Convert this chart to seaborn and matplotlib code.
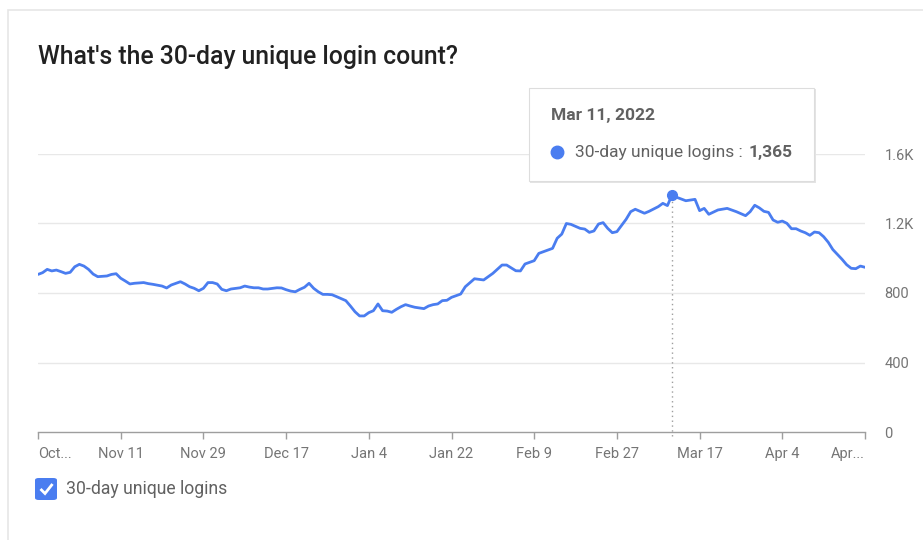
import numpy as np
import pandas as pd
import matplotlib
matplotlib.use("Agg")
import matplotlib.pyplot as plt
from matplotlib.patches import FancyBboxPatch, Rectangle
from matplotlib.lines import Line2D
import seaborn as sns

# ---- data ----
start_date = "2021-10-24"
day_offsets = [0, 1, 2, 3, 4, 5, 6, 7, 8, 9, 10, 11, 12, 13, 15, 16, 17, 18, 19, 20,
               21, 23, 24, 25, 27, 28, 29, 31, 32, 33, 34, 35, 36, 37, 38, 39, 40, 41, 42, 44,
               45, 46, 47, 48, 49, 50, 52, 53, 54, 55, 56, 57, 58, 59, 60, 61, 62, 63, 64, 65,
               67, 68, 69, 70, 71, 72, 73, 74, 75, 76, 77, 78, 79, 80, 81, 82, 84, 85, 86, 87,
               88, 89, 90, 92, 93, 95, 97, 99, 101, 102, 104, 105, 106, 108, 109, 111, 112, 113, 114, 115,
               116, 118, 119, 120, 121, 122, 123, 124, 125, 126, 128, 129, 130, 132, 133, 135, 136, 137, 138, 139,
               141, 143, 144, 145, 146, 148, 150, 152, 154, 155, 156, 157, 158, 159, 160, 161, 162, 163, 164, 165,
               166, 167, 168, 169, 170, 171, 172, 173, 175, 176, 177, 178, 179, 180]
logins = [907, 917, 936, 927, 932, 923, 913, 919, 951, 965, 955, 936, 909, 894, 898, 907, 911, 885, 869, 852,
          856, 860, 854, 850, 840, 829, 846, 865, 852, 836, 827, 813, 827, 860, 860, 852, 821, 813, 823, 830,
          840, 834, 830, 830, 823, 823, 830, 829, 819, 811, 807, 821, 833, 856, 827, 807, 792, 792, 790, 779,
          756, 725, 692, 668, 668, 687, 698, 737, 698, 696, 689, 706, 721, 733, 725, 718, 710, 725, 733, 737,
          756, 758, 775, 794, 836, 882, 875, 913, 961, 961, 928, 927, 967, 986, 1028, 1047, 1057, 1115, 1139, 1200,
          1195, 1172, 1168, 1149, 1157, 1197, 1205, 1172, 1147, 1153, 1224, 1268, 1282, 1259, 1270, 1297, 1316, 1303, 1365, 1351,
          1331, 1339, 1274, 1287, 1253, 1278, 1287, 1268, 1245, 1268, 1305, 1290, 1270, 1264, 1220, 1207, 1214, 1201, 1170, 1170,
          1157, 1147, 1132, 1151, 1147, 1124, 1092, 1050, 994, 963, 942, 940, 955, 948]
tick_dates = ["2021-10-24", "2021-11-11", "2021-11-29", "2021-12-17", "2022-01-04", "2022-01-22",
              "2022-02-09", "2022-02-27", "2022-03-17", "2022-04-04", "2022-04-22"]
tick_labels = ["Oct...", "Nov 11", "Nov 29", "Dec 17", "Jan 4", "Jan 22",
               "Feb 9", "Feb 27", "Mar 17", "Apr 4", "Apr..."]
y_ticks = [0, 400, 800, 1200, 1600]
y_labels = ["0", "400", "800", "1.2K", "1.6K"]
highlight_date = "2022-03-11"
highlight_value = 1365
series_name = "30-day unique logins"
title = "What's the 30-day unique login count?"

dates = pd.Timestamp(start_date) + pd.to_timedelta(day_offsets, unit="D")
df = pd.DataFrame({"date": dates, "value": logins})

BLUE = "#4a7df0"
GRAY_TXT = "#757575"

sns.set_theme(style="white")
plt.rcParams["font.family"] = ["Roboto", "DejaVu Sans"]

W, H = 923, 540
fig = plt.figure(figsize=(W / 100, H / 100), dpi=100)
fig.patch.set_facecolor("white")

def fx(px):
    return px / W

def fy(py):
    return 1 - py / H

# card outline
card = Rectangle((fx(8), fy(545)), fx(930) - fx(8), fy(10) - fy(545),
                 transform=fig.transFigure, facecolor="white", edgecolor="#e6e6e6",
                 linewidth=1.2, zorder=-5)
fig.patches.append(card)

ax = fig.add_axes([fx(38), fy(432), fx(865) - fx(38), fy(154) - fy(432)])
ax.set_facecolor("none")
ax.set_zorder(1)

sns.lineplot(data=df, x="date", y="value", ax=ax, color=BLUE, linewidth=2.0,
             legend=False, zorder=3)

x0 = pd.Timestamp(tick_dates[0])
x1 = pd.Timestamp(tick_dates[-1])
ax.set_xlim(x0, x1)
ax.set_ylim(0, 1600)

# gridlines
for v in y_ticks[1:]:
    ax.axhline(v, color="#e8e8e8", linewidth=1.0, zorder=1)

for s in ["top", "left", "right"]:
    ax.spines[s].set_visible(False)
ax.spines["bottom"].set_color("#9e9e9e")
ax.spines["bottom"].set_linewidth(1.0)

ax.set_xticks(pd.to_datetime(tick_dates))
ax.set_xticklabels(tick_labels)
ax.tick_params(axis="x", bottom=True, length=5, width=1, color="#9e9e9e",
               labelsize=10.5, labelcolor=GRAY_TXT, pad=6)
lbls = ax.get_xticklabels()
lbls[0].set_ha("left")
lbls[-1].set_ha("right")

ax.yaxis.tick_right()
ax.set_yticks(y_ticks)
ax.set_yticklabels(y_labels)
ax.tick_params(axis="y", right=False, left=False, labelsize=10.5,
               labelcolor=GRAY_TXT, pad=8)
ax.set_xlabel("")
ax.set_ylabel("")

# highlight
hd = pd.Timestamp(highlight_date)
ax.vlines(hd, -25, highlight_value, colors="#9e9e9e", linestyles=(0, (1, 2.5)),
          linewidth=1.0, zorder=2, clip_on=False)
ax.plot([hd], [highlight_value], marker="o", markersize=7, color=BLUE, zorder=4,
        clip_on=False)

# title
fig.text(fx(38), fy(57), title, fontsize=17.8, color="#212121", fontweight="medium",
         ha="left", va="center")

# tooltip (above axes)
shadow = Rectangle((fx(530), fy(183)), fx(816) - fx(530), fy(89) - fy(183),
                   transform=fig.transFigure, facecolor="#e4e4e4", edgecolor="none",
                   zorder=5)
fig.patches.append(shadow)
tip = Rectangle((fx(529), fy(181)), fx(814) - fx(529), fy(88) - fy(181),
                transform=fig.transFigure, facecolor="white", edgecolor="#dddddd",
                linewidth=0.8, zorder=6)
fig.patches.append(tip)
fig.text(fx(551), fy(115), "Mar 11, 2022", fontsize=12.5, fontweight="bold",
         color="#616161", ha="left", va="center", zorder=7)
fig.add_artist(Line2D([fx(557)], [fy(152)], marker="o", markersize=9, color=BLUE,
                      transform=fig.transFigure, zorder=7))
t1 = fig.text(fx(575), fy(152), series_name + " :", fontsize=12.5, color="#616161",
              ha="left", va="center", zorder=7)
fig.canvas.draw()
bb = t1.get_window_extent()
fig.text(bb.x1 / W + fx(6), fy(152), f"{highlight_value:,}", fontsize=12.5,
         fontweight="bold", color="#616161", ha="left", va="center", zorder=7)

# legend checkbox
box = FancyBboxPatch((fx(35), fy(500)), fx(57) - fx(35), fy(478) - fy(500),
                     boxstyle="round,pad=0,rounding_size=0.004",
                     transform=fig.transFigure, facecolor=BLUE, edgecolor="none",
                     zorder=5)
fig.patches.append(box)
fig.add_artist(Line2D([fx(40.5), fx(45), fx(52.5)], [fy(489), fy(493.5), fy(484)],
                      color="white", linewidth=2.0, transform=fig.transFigure,
                      zorder=6, solid_capstyle="butt", solid_joinstyle="miter"))
fig.text(fx(66), fy(489), series_name, fontsize=12.7, color="#616161",
         ha="left", va="center")

fig.savefig("out.png", dpi=100, facecolor="white")
